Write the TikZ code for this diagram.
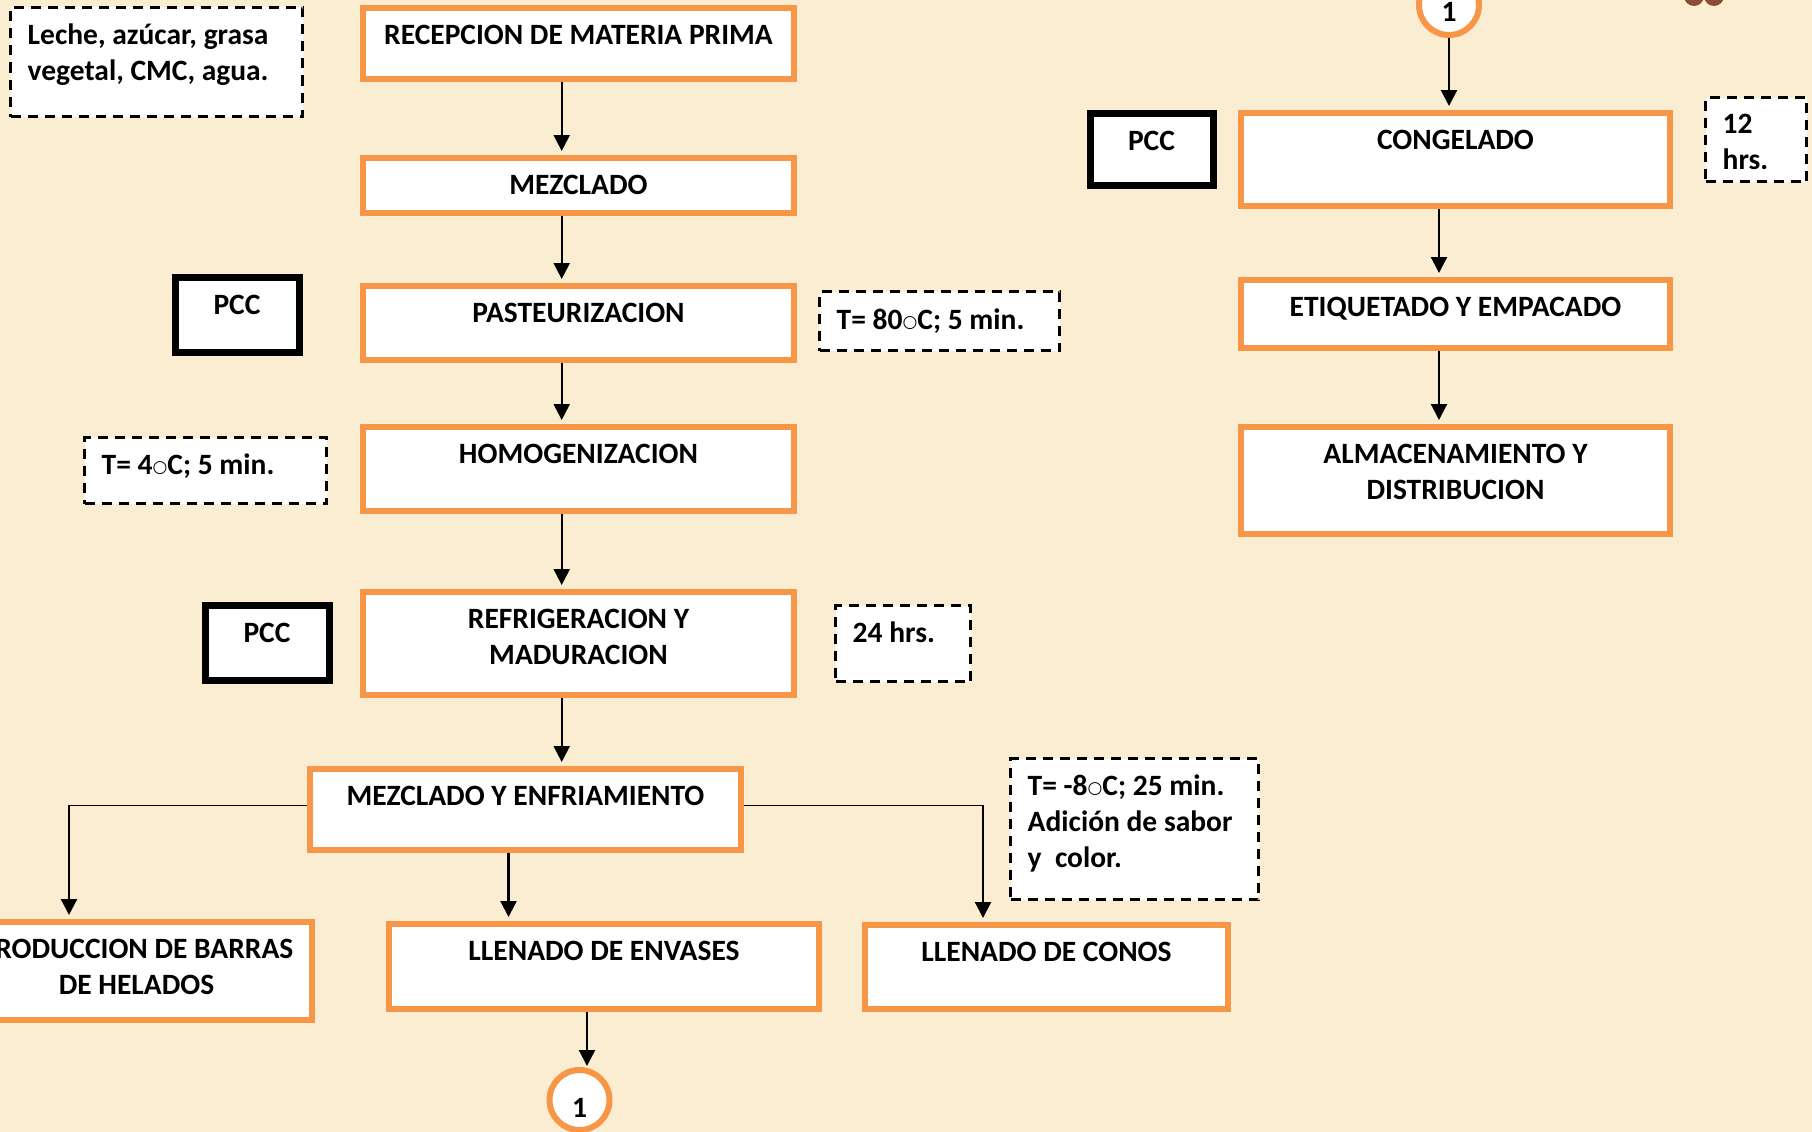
\documentclass[tikz,border=0pt]{standalone}
\usepackage{fontspec}
\setmainfont{Carlito}[BoldFont={Carlito Bold}]
\newfontfamily\symfont{DejaVu Sans}
\usetikzlibrary{arrows.meta}
\definecolor{paper}{HTML}{FBEDD1}
\definecolor{boxorange}{HTML}{F79646}
\definecolor{bean}{HTML}{8A4B38}
% small open circle used as the degree mark
\newcommand{\gradsym}{{\symfont\bfseries\fontsize{17}{17}\selectfont\raisebox{2pt}{○}}}
\begin{document}
\begin{tikzpicture}[x=1pt,y=-1pt,
  obox/.style={rectangle, draw=boxorange, line width=6pt, fill=white, inner sep=0pt},
  pccbox/.style={rectangle, draw=black, line width=7pt, fill=white, inner sep=0pt},
  note/.style={rectangle, draw=black, line width=3pt, dash pattern=on 10pt off 7pt, fill=white, inner sep=0pt},
  ring/.style={circle, draw=boxorange, line width=6pt, fill=white, inner sep=0pt, minimum size=60pt},
  txt/.style={font=\fontsize{29.5}{36}\selectfont\bfseries, align=center, inner sep=0pt, anchor=base},
  ltxt/.style={txt, align=left, anchor=base west},
  flow/.style={line width=2.2pt, -{Triangle[length=16pt,width=16pt]}, shorten >=4pt},
  branch/.style={line width=1.6pt}
]
\useasboundingbox (0,0) rectangle (1812,1132);
\clip (0,0) rectangle (1812,1132);
\fill[paper] (0,0) rectangle (1812,1132);

% decoration peeking in at the top edge
\fill[bean] (1694,-4) circle (10);
\fill[bean] (1714,-4) circle (10);

% ---- left column: process steps ----
\node[obox, minimum width=431pt, minimum height=71pt]  (recep) at (578.5,43.5) {};
\node[obox, minimum width=431pt, minimum height=55pt]  (mez)   at (578.5,185.5) {};
\node[obox, minimum width=431pt, minimum height=74pt]  (pas)   at (578.5,323) {};
\node[obox, minimum width=431pt, minimum height=84pt]  (hom)   at (578.5,469) {};
\node[obox, minimum width=431pt, minimum height=103pt] (ref)   at (578.5,643.5) {};
\node[obox, minimum width=431pt, minimum height=81pt]  (mye)   at (525.5,809.5) {};
\node[obox, minimum width=351pt, minimum height=98pt]  (prod)  at (136.5,971) {};
\node[obox, minimum width=430pt, minimum height=85pt]  (env)   at (604,966.5) {};
\node[obox, minimum width=363pt, minimum height=84pt]  (con)   at (1046.5,967) {};
\node[ring] (c1) at (579.5,1100) {};

% the base anchor of a multi-line label sits on its last line
\node[txt] (recep-t) at ([yshift=-39.5pt]recep.north) {RECEPCION DE MATERIA PRIMA};
\node[txt] (mez-t)   at ([yshift=-39.5pt]mez.north)   {MEZCLADO};
\node[txt] (pas-t)   at ([yshift=-39.5pt]pas.north)   {PASTEURIZACION};
\node[txt] (hom-t)   at ([yshift=-39.5pt]hom.north)   {HOMOGENIZACION};
\node[txt] (ref-t)   at ([yshift=-75.5pt]ref.north)   {REFRIGERACION Y\\MADURACION};
\node[txt] (mye-t)   at ([yshift=-39.5pt]mye.north)   {MEZCLADO Y ENFRIAMIENTO};
\node[txt] (prod-t)  at ([yshift=-75.5pt]prod.north)  {PRODUCCION DE BARRAS\\DE HELADOS};
\node[txt] (env-t)   at ([yshift=-39.5pt]env.north)   {LLENADO DE ENVASES};
\node[txt] (con-t)   at ([yshift=-39.5pt]con.north)   {LLENADO DE CONOS};
\node[txt] (c1-t)    at ([yshift=-17pt]c1.center)   {1};

% critical control points
\node[pccbox, minimum width=124pt, minimum height=75pt] (pcc1) at (237,314.5) {};
\node[pccbox, minimum width=124pt, minimum height=75pt] (pcc2) at (267,642.5) {};
\node[txt] (pcc1-t) at ([yshift=-40.5pt]pcc1.north) {PCC};
\node[txt] (pcc2-t) at ([yshift=-40.5pt]pcc2.north) {PCC};

% process notes
\node[note, minimum width=292pt, minimum height=109pt] (inp) at (156.5,62) {};
\node[note, minimum width=240pt, minimum height=59pt]  (t80) at (939.5,321) {};
\node[note, minimum width=242pt, minimum height=66pt]  (t4)  at (205.5,470.5) {};
\node[note, minimum width=135pt, minimum height=76pt]  (h24) at (903,643.5) {};
\node[note, minimum width=248pt, minimum height=141pt] (t8)  at (1134.5,829) {};

\node[ltxt] (inp-t) at ([xshift=18.5pt,yshift=-74.5pt]inp.north west) {Leche, azúcar, grasa\\vegetal, CMC, agua.};
\node[ltxt] (t80-t) at ([xshift=18.5pt,yshift=-39.5pt]t80.north west) {T= 80\gradsym C; 5 min.};
\node[ltxt] (t4-t)  at ([xshift=18.5pt,yshift=-38pt]t4.north west)  {T= 4\gradsym C; 5 min.};
\node[ltxt] (h24-t) at ([xshift=18.5pt,yshift=-38.5pt]h24.north west) {24 hrs.};
\node[ltxt] (t8-t)  at ([xshift=18.5pt,yshift=-110pt]t8.north west) {T= -8\gradsym C; 25 min.\\Adición de sabor\\y\ \ color.};

% ---- right column ----
\node[ring] (c2) at (1449,5) {};
\node[txt] (c2-t) at ([yshift=-17pt]c2.center) {1};
\node[obox, minimum width=429pt, minimum height=93pt]  (cong) at (1455.5,159.5) {};
\node[obox, minimum width=429pt, minimum height=68pt]  (eti)  at (1455.5,314) {};
\node[obox, minimum width=429pt, minimum height=107pt] (alm)  at (1455.5,480.5) {};
\node[txt] (cong-t) at ([yshift=-39.5pt]cong.north) {CONGELADO};
\node[txt] (eti-t)  at ([yshift=-39.5pt]eti.north)  {ETIQUETADO Y EMPACADO};
\node[txt] (alm-t)  at ([yshift=-75.5pt]alm.north)  {ALMACENAMIENTO Y\\DISTRIBUCION};
\node[pccbox, minimum width=123pt, minimum height=72pt] (pcc3) at (1151.5,149) {};
\node[txt] (pcc3-t) at ([yshift=-40.5pt]pcc3.north) {PCC};
\node[note, minimum width=101pt, minimum height=84pt] (h12) at (1756,139.5) {};
\node[ltxt] (h12-t) at ([xshift=18.5pt,yshift=-73.5pt]h12.north west) {12\\hrs.};

% ---- connectors ----
\coordinate (mainx) at (561.7,0);
\coordinate (midx)  at (508.5,0);
\coordinate (envx)  at (587,0);
\coordinate (rightx) at (1439,0);
\coordinate (brl) at (69,805.5);
\coordinate (brr) at (983,805.5);

\draw[flow] (recep.south -| mainx) -- (mez.north -| mainx);
\draw[flow] (mez.south -| mainx)   -- (pas.north -| mainx);
\draw[flow] (pas.south -| mainx)   -- (hom.north -| mainx);
\draw[flow] (hom.south -| mainx)   -- (ref.north -| mainx);
\draw[flow] (ref.south -| mainx)   -- (mye.north -| mainx);

\draw[branch] (mye.west |- brl) -- (brl);
\draw[flow] ([yshift=0.8pt]brl) -- (prod.north -| brl);
\draw[flow] (mye.south -| midx) -- (env.north -| midx);
\draw[branch] (mye.east |- brr) -- (brr);
\draw[flow] ([yshift=0.8pt]brr) -- (con.north -| brr);
\draw[flow, shorten >=1pt] (env.south -| envx) -- (c1.north -| envx);

\draw[flow] (c2.south) -- (cong.north -| c2.south);
\draw[flow] (cong.south -| rightx) -- (eti.north -| rightx);
\draw[flow] (eti.south -| rightx)  -- (alm.north -| rightx);
\end{tikzpicture}
\end{document}
